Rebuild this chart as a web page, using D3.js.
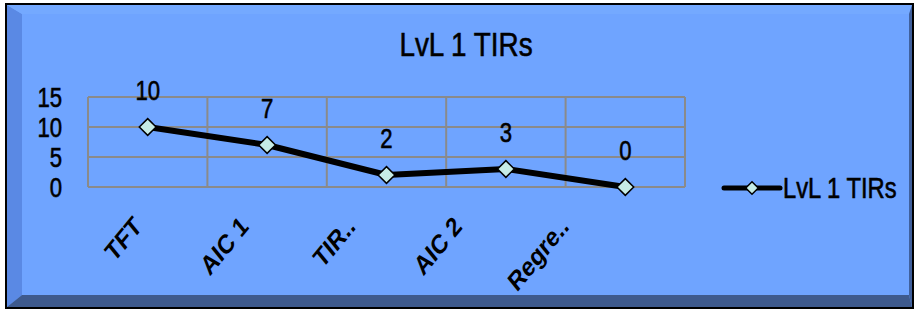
<!DOCTYPE html>
<html>
<head>
<meta charset="utf-8">
<script src="https://cdn.jsdelivr.net/npm/d3@7"></script>
<style>
  body { margin: 0; background: #fff; }
  text { font-family: "Liberation Sans", Arial, sans-serif; fill: #000; }
  text.reg { stroke: #000; stroke-width: 0.6px; }
</style>
</head>
<body>
<svg width="915" height="311"></svg>
<script>
var categories = ["TFT", "AIC 1", "TIR..", "AIC 2", "Regre.."];
var values = [10, 7, 2, 3, 0];
var yTicks = [0, 5, 10, 15];
var seriesName = "LvL 1 TIRs";
var chartTitle = "LvL 1 TIRs";

// the source picture is squeezed sideways, so text is too
var squeeze = 0.82;

var svg = d3.select("svg");

// bevelled frame
svg.append("rect").attr("x", 5).attr("y", 3).attr("width", 909).attr("height", 306).attr("fill", "#000");
svg.append("polygon").attr("points", "7,5 912,5 912,307 7,307").attr("fill", "#6fa4ff");
svg.append("polygon").attr("points", "7,5 22,14 22,295 7,307").attr("fill", "#5a89e4");
svg.append("polygon").attr("points", "7,5 912,5 909,14 22,14").attr("fill", "#74a9ff");
svg.append("polygon").attr("points", "912,5 912,307 909,295 909,14").attr("fill", "#40609c");
svg.append("polygon").attr("points", "7,307 912,307 909,295 22,295").attr("fill", "#3e5a8d");
svg.append("rect").attr("x", 22).attr("y", 14).attr("width", 887).attr("height", 281).attr("fill", "#6fa4ff");

svg.append("text").attr("class", "reg")
    .attr("transform", "translate(466,56) scale(" + squeeze + ",1)")
    .attr("text-anchor", "middle")
    .attr("font-size", 34)
    .text(chartTitle);

var margin = {left: 88, top: 97},
    width = 597, height = 90;

var g = svg.append("g").attr("transform", "translate(" + margin.left + "," + margin.top + ")");

var x = d3.scaleBand().domain(categories).range([0, width]);
var y = d3.scaleLinear().domain([0, 15]).range([height, 0]);

// grid
g.selectAll(".hg").data(yTicks).enter().append("line")
    .attr("x1", 0).attr("x2", width)
    .attr("y1", function(d) { return y(d); }).attr("y2", function(d) { return y(d); })
    .attr("stroke", "#8a8a8a").attr("stroke-width", 2);
var vlines = categories.map(function(c) { return x(c); }).concat([width]);
g.selectAll(".vg").data(vlines).enter().append("line")
    .attr("x1", function(d) { return d; }).attr("x2", function(d) { return d; })
    .attr("y1", 0).attr("y2", height)
    .attr("stroke", "#8a8a8a").attr("stroke-width", 2);

// y labels
g.selectAll(".yl").data(yTicks).enter().append("text").attr("class", "reg")
    .attr("transform", function(d) { return "translate(-26," + (y(d) + 9.5) + ") scale(" + squeeze + ",1)"; })
    .attr("text-anchor", "end")
    .attr("font-size", 27)
    .text(function(d) { return d; });

// category labels
var labelX = d3.scalePoint().domain(categories).range([55, 482]);
g.selectAll(".cat").data(categories).enter().append("text")
    .attr("transform", function(d) {
        return "translate(" + labelX(d) + ",131) scale(" + squeeze + ",1) rotate(-45)";
    })
    .attr("text-anchor", "end")
    .attr("font-size", 27)
    .attr("font-weight", "bold")
    .text(function(d) { return d; });

var cx = function(d, i) { return x(categories[i]) + x.bandwidth() / 2; };

var line = d3.line()
    .x(function(d, i) { return cx(d, i); })
    .y(function(d) { return y(d); });

g.append("path").datum(values)
    .attr("fill", "none").attr("stroke", "#000").attr("stroke-width", 6)
    .attr("stroke-linejoin", "round")
    .attr("d", line);

var diamond = d3.symbol().type(d3.symbolDiamond2).size(180);
g.selectAll(".pt").data(values).enter().append("path")
    .attr("transform", function(d, i) { return "translate(" + cx(d, i) + "," + y(d) + ")"; })
    .attr("d", diamond)
    .attr("fill", "#c6ece6").attr("stroke", "#000").attr("stroke-width", 1.5);

g.selectAll(".dl").data(values).enter().append("text").attr("class", "reg")
    .attr("transform", function(d, i) { return "translate(" + cx(d, i) + "," + (y(d) - 27) + ") scale(" + squeeze + ",1)"; })
    .attr("text-anchor", "middle")
    .attr("font-size", 27)
    .text(function(d) { return d; });

// legend
var lg = svg.append("g").attr("transform", "translate(724,188)");
lg.append("line").attr("x1", 0).attr("x2", 56).attr("y1", 0).attr("y2", 0)
    .attr("stroke", "#000").attr("stroke-width", 5).attr("stroke-linecap", "round");
lg.append("path").attr("transform", "translate(28,0)")
    .attr("d", d3.symbol().type(d3.symbolDiamond2).size(100))
    .attr("fill", "#c6ece6").attr("stroke", "#000").attr("stroke-width", 1.5);
lg.append("text").attr("class", "reg").attr("transform", "translate(59,10) scale(" + squeeze + ",1)")
    .attr("font-size", 29).text(seriesName);
</script>
</body>
</html>
